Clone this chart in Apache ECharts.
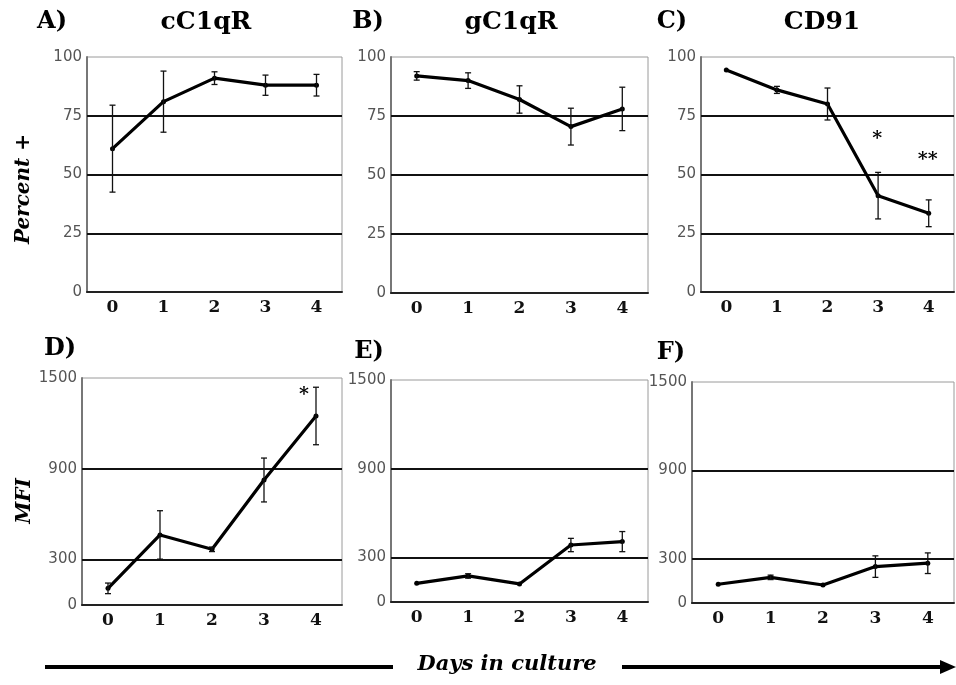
<!DOCTYPE html>
<html>
<head>
<meta charset="utf-8">
<script src="https://cdn.jsdelivr.net/npm/echarts@6/dist/echarts.min.js"></script>
<style>
html,body{margin:0;padding:0;background:#fff;}
#chart{width:956px;height:685px;}
</style>
</head>
<body>
<div id="chart"></div>
<script>
// ---- data ----
const days = ['0', '1', '2', '3', '4'];
const pctTicks = [0, 25, 50, 75, 100];
const pctGridLines = [25, 50, 75];
const mfiTicks = [0, 300, 900, 1500];
const mfiGridLines = [300, 900];

const cC1qRPct = [61, 81, 91, 88, 88];
const cC1qRPctErr = [18.5, 13, 2.7, 4.3, 4.6];
const gC1qRPct = [92, 90, 82, 70.5, 78];
const gC1qRPctErr = [1.8, 3.3, 5.8, 7.8, 9.2];
const cd91Pct = [94.5, 86, 80, 41, 33.5];
const cd91PctErr = [0, 1.5, 6.8, 9.9, 5.7];

const cC1qRMfi = [110, 463, 368, 826, 1249];
const cC1qRMfiErr = [35, 160, 15, 145, 190];
const gC1qRMfi = [126, 176, 122, 385, 408];
const gC1qRMfiErr = [0, 15, 0, 45, 68];
const cd91Mfi = [127, 174, 122, 247, 270];
const cd91MfiErr = [0, 15, 0, 73, 70];

const cd91PctMarks = [{day: 3, value: 65, text: '*'}, {day: 4, value: 56, text: '**'}];
const cC1qRMfiMarks = [{day: 4, value: 1390, text: '*'}];
const noMarks = [];

// ---- layout ----
const panels = [
  {mean: cC1qRPct, err: cC1qRPctErr, ticks: pctTicks, lines: pctGridLines, max: 100, interval: 25, marks: noMarks, box: [87, 57, 255, 235], markDx: 0},
  {mean: gC1qRPct, err: gC1qRPctErr, ticks: pctTicks, lines: pctGridLines, max: 100, interval: 25, marks: noMarks, box: [391, 57, 257, 236], markDx: 0},
  {mean: cd91Pct, err: cd91PctErr, ticks: pctTicks, lines: pctGridLines, max: 100, interval: 25, marks: cd91PctMarks, box: [701, 57, 253, 235], markDx: -1},
  {mean: cC1qRMfi, err: cC1qRMfiErr, ticks: mfiTicks, lines: mfiGridLines, max: 1500, interval: 300, marks: cC1qRMfiMarks, box: [82, 378, 260, 227], markDx: -12},
  {mean: gC1qRMfi, err: gC1qRMfiErr, ticks: mfiTicks, lines: mfiGridLines, max: 1500, interval: 300, marks: noMarks, box: [391, 380, 257, 222], markDx: 0},
  {mean: cd91Mfi, err: cd91MfiErr, ticks: mfiTicks, lines: mfiGridLines, max: 1500, interval: 300, marks: noMarks, box: [692, 382, 262, 221], markDx: 0}
];

const grid = [], xAxis = [], yAxis = [], series = [];
panels.forEach((p, i) => {
  grid.push({left: p.box[0], top: p.box[1], width: p.box[2], height: p.box[3],
    show: true, borderColor: '#9a9a9a', borderWidth: 1, containLabel: false});
  xAxis.push({type: 'category', gridIndex: i, data: days, boundaryGap: true,
    axisTick: {show: false},
    axisLine: {show: true, lineStyle: {color: '#222', width: 2}},
    axisLabel: {margin: 7, color: '#111', fontSize: 17, fontFamily: 'DejaVu Serif', fontWeight: 'bold'},
    splitLine: {show: false}});
  yAxis.push({type: 'value', gridIndex: i, min: 0, max: p.max, interval: p.interval,
    axisLine: {show: true, lineStyle: {color: '#777', width: 2}},
    axisTick: {show: false},
    splitLine: {show: false},
    axisLabel: {customValues: p.ticks, formatter: v => String(v), margin: 5, color: '#555', fontSize: 15, fontFamily: 'DejaVu Sans'}});
  series.push({
    type: 'line', xAxisIndex: i, yAxisIndex: i, data: p.mean,
    lineStyle: {color: '#000', width: 3.2},
    itemStyle: {color: '#000'},
    symbol: 'circle', symbolSize: 5, z: 3,
    markLine: {silent: true, symbol: 'none', label: {show: false}, z: 1,
      lineStyle: {color: '#111', width: 1.8, type: 'solid'},
      data: p.lines.map(v => ({yAxis: v}))},
    markPoint: {symbol: 'circle', symbolSize: 0,
      label: {show: true, position: 'inside', formatter: '{b}', color: '#000', fontSize: 19,
        fontFamily: 'DejaVu Serif', fontWeight: 'bold', offset: [p.markDx, 0]},
      data: p.marks.map(m => ({name: m.text, coord: [days[m.day], m.value]}))}
  });
  series.push({
    type: 'custom', xAxisIndex: i, yAxisIndex: i, z: 4,
    data: p.mean.map((m, k) => [k, m - p.err[k], m + p.err[k]]),
    renderItem: function (params, api) {
      const k = api.value(0), lo = api.value(1), hi = api.value(2);
      if (hi - lo < 1e-9) return;
      const a = api.coord([k, lo]), b = api.coord([k, hi]);
      const w = 3;
      const st = {stroke: '#111', lineWidth: 1.3};
      return {type: 'group', children: [
        {type: 'line', shape: {x1: a[0], y1: a[1], x2: b[0], y2: b[1]}, style: st},
        {type: 'line', shape: {x1: a[0] - w, y1: a[1], x2: a[0] + w, y2: a[1]}, style: st},
        {type: 'line', shape: {x1: b[0] - w, y1: b[1], x2: b[0] + w, y2: b[1]}, style: st}
      ]};
    }
  });
});

const txt = (text, x, y, size, extra) => ({
  type: 'text', x: x, y: y, silent: true,
  style: Object.assign({text: text, fill: '#000', fontSize: size, align: 'center', verticalAlign: 'middle',
    fontFamily: 'DejaVu Serif', fontWeight: 'bold'}, extra || {})
});

const graphic = [
  txt('A)', 52, 22, 24), txt('cC1qR', 206, 22, 25),
  txt('B)', 368, 22, 24), txt('gC1qR', 511, 22, 25),
  txt('C)', 672, 22, 24), txt('CD91', 822, 22, 25),
  txt('D)', 60, 349, 24), txt('E)', 369, 352, 24), txt('F)', 671, 353, 24),
  Object.assign(txt('Percent +', 24, 189, 20, {fontStyle: 'italic'}), {rotation: Math.PI / 2}),
  Object.assign(txt('MFI', 25, 501, 20, {fontStyle: 'italic'}), {rotation: Math.PI / 2}),
  txt('Days in culture', 507, 665, 21, {fontStyle: 'italic'}),
  {type: 'line', silent: true, shape: {x1: 45, y1: 667, x2: 393, y2: 667}, style: {stroke: '#000', lineWidth: 4}},
  {type: 'line', silent: true, shape: {x1: 622, y1: 667, x2: 944, y2: 667}, style: {stroke: '#000', lineWidth: 4}},
  {type: 'polygon', silent: true, shape: {points: [[940, 660], [956, 667], [940, 674]]}, style: {fill: '#000'}}
];

const chart = echarts.init(document.getElementById('chart'), null, {renderer: 'canvas'});
chart.setOption({
  backgroundColor: '#fff',
  animation: false,
  grid: grid, xAxis: xAxis, yAxis: yAxis, series: series, graphic: graphic
});
</script>
</body>
</html>
